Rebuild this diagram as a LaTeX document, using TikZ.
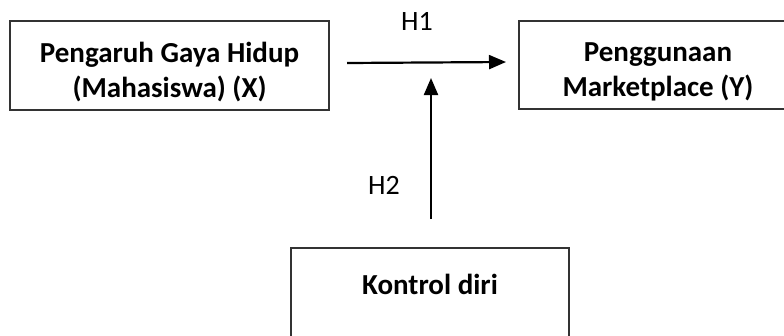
\documentclass[tikz,border=0pt]{standalone}
\usepackage{fontspec}
\setmainfont{Carlito}
\usetikzlibrary{arrows.meta}
\begin{document}
\begin{tikzpicture}[x=1pt,y=-1pt,
  box/.style={draw=black!80, line width=1.3pt, rectangle, inner sep=0pt},
  txt/.style={inner sep=0pt, align=center, font=\fontsize{29}{35}\selectfont\bfseries},
  lbl/.style={font=\fontsize{28}{32}\selectfont, inner sep=0pt},
  arr/.style={line width=2.2pt, -{Triangle[length=17pt,width=14pt]}}]
\useasboundingbox (0,0) rectangle (784,335);
\clip (0,0) rectangle (784,335);
\node[box, minimum width=319pt, minimum height=89pt] (x) at (169.5,65.5) {};
\node[txt] (xt) at (169.5,72) {Pengaruh Gaya Hidup\\(Mahasiswa) (X)};
\node[box, minimum width=278pt, minimum height=88pt] (y) at (658,65) {};
\node[txt] (yt) at (658,72) {Penggunaan\\Marketplace (Y)};
\node[box, minimum width=278pt, minimum height=102pt] (z) at (430,299) {};
\node[txt] (zt) at (430,284) {Kontrol diri};
\coordinate (h1s) at (347,63);
\coordinate (h1e) at (506,62);
\coordinate (h2s) at (431,219);
\coordinate (h2e) at (431,78);
\draw[arr] (h1s) -- (h1e);
\draw[arr] (h2s) -- (h2e);
\node[lbl] (h1) at (417,21) {H1};
\node[lbl] (h2) at (384,185) {H2};
\end{tikzpicture}
\end{document}
